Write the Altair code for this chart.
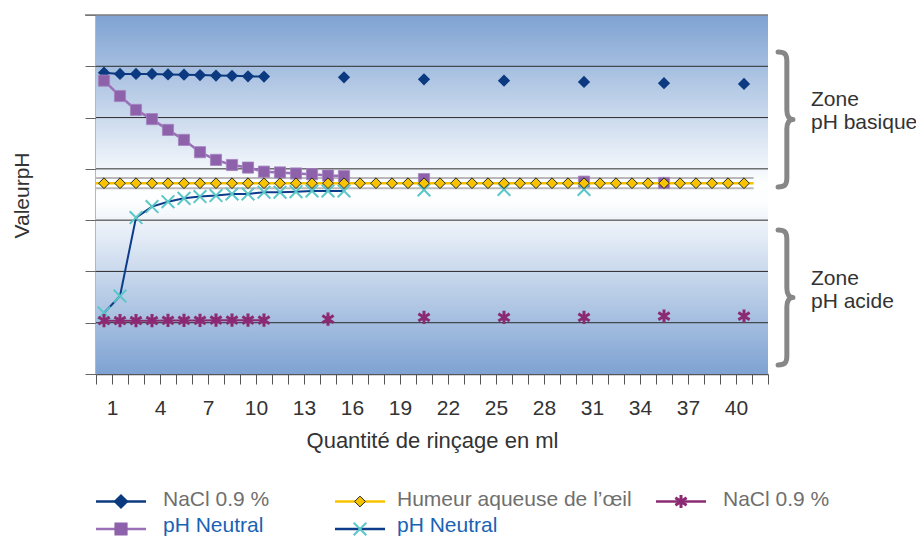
import altair as alt
import pandas as pd

W, H = 672, 359
FONT = "Liberation Sans"

# ---------------- data ----------------
X_TICKS = [i + 0.5 for i in range(0, 43)]          # band boundaries 0.5 .. 42.5
Y_TICKS = [0, 2, 4, 6, 8, 10, 12, 14]
Y_GRID = [2, 4, 6, 8, 10, 12]
Y_TOP = [14]

# NaCl 0.9 % (dark blue diamonds)
nacl_x = [1, 2, 3, 4, 5, 6, 7, 8, 9, 10, 11, 16, 21, 26, 31, 36, 41]
nacl_y = [11.75, 11.70, 11.70, 11.70, 11.68, 11.67, 11.66, 11.64, 11.63, 11.61, 11.60,
          11.57, 11.49, 11.44, 11.39, 11.34, 11.31]
nacl_conn = 11

# pH Neutral (purple squares)
phn_x = [1, 2, 3, 4, 5, 6, 7, 8, 9, 10, 11, 12, 13, 14, 15, 16, 21, 31, 36]
phn_y = [11.44, 10.84, 10.30, 9.94, 9.52, 9.13, 8.65, 8.35, 8.15, 8.05, 7.89, 7.86,
         7.82, 7.79, 7.74, 7.72, 7.60, 7.50, 7.45]
phn_conn = 16

# pH Neutral (cyan crosses, dark blue line)
cy_x = [1, 2, 3, 4, 5, 6, 7, 8, 9, 10, 11, 12, 13, 14, 15, 16, 21, 26, 31]
cy_y = [2.38, 3.04, 6.10, 6.53, 6.72, 6.85, 6.92, 6.96, 7.02, 7.02, 7.09, 7.09,
        7.11, 7.14, 7.14, 7.14, 7.18, 7.20, 7.20]
cy_conn = 16

# NaCl 0.9 % (magenta asterisks)
mag_x = [1, 2, 3, 4, 5, 6, 7, 8, 9, 10, 11, 15, 21, 26, 31, 36, 41]
mag_y = [2.08, 2.08, 2.08, 2.08, 2.09, 2.09, 2.09, 2.10, 2.10, 2.10, 2.10,
         2.14, 2.21, 2.21, 2.21, 2.26, 2.26]
mag_conn = 11

# Humeur aqueuse de l'oeil (yellow diamonds)
yel_x = list(range(1, 42))
yel_y = [7.44, 7.44, 7.44, 7.44, 7.44, 7.44, 7.44, 7.44, 7.44, 7.44, 7.44, 7.44, 7.44, 7.44,
         7.44, 7.44, 7.44, 7.44, 7.44, 7.44, 7.44, 7.44, 7.44, 7.44, 7.44, 7.44, 7.44, 7.44,
         7.44, 7.44, 7.44, 7.44, 7.44, 7.44, 7.44, 7.44, 7.44, 7.44, 7.44, 7.44, 7.44]
yel_band = [7.64, 7.24]
yel_span = [0.5, 41.6]

# ---------------- styles ----------------
C_NACL = "#0b3a80"
C_PHN = "#8e62ab"
C_PHN_LINE = "#9b70b9"
C_CY = "#5bc6c8"
C_CY_LINE = "#0d3c8a"
C_MAG = "#8b2a73"
C_YEL = "#f8c400"
C_TXT = "#333333"

SHAPE_X = "M-1,-1L1,1M-1,1L1,-1"
SHAPE_AST = "M0,-1L0,1M-0.85,-0.55L0.85,0.55M-0.85,0.55L0.85,-0.55"
SHAPE_BRACE = ("M-0.11,-1 C-0.01,-1 0.02,-0.97 0.02,-0.86 L0.02,-0.14 "
               "C0.02,-0.04 0.06,0 0.11,0 C0.06,0 0.02,0.04 0.02,0.14 "
               "L0.02,0.86 C0.02,0.97 -0.01,1 -0.11,1")

xs = alt.Scale(domain=[0.5, 42.5], nice=False, zero=False)
ys = alt.Scale(domain=[0, 14], nice=False, zero=False)

XAX = alt.Axis(
    values=X_TICKS, grid=False,
    labelExpr="((datum.value - 1.5) % 3 == 0) ? format(datum.value - 0.5, 'd') : ''",
    labelOverlap=False, labelFlush=False,
    labelFont=FONT, labelFontSize=21, labelColor=C_TXT, labelPadding=13,
    tickSize=10, tickColor="#555555", domainColor="#555555", domainWidth=1.5,
    title="Quantité de rinçage en ml", titleFont=FONT, titleFontSize=22,
    titleFontWeight="normal", titleColor=C_TXT, titleY=73, titleBaseline="alphabetic",
)
YAX = alt.Axis(
    values=Y_TICKS, grid=False, labels=False,
    tickSize=11, tickColor="#666666", domainColor="#6e6e6e", domainWidth=2,
    title="ValeurpH", titleFont=FONT, titleFontSize=21, titleFontWeight="normal",
    titleColor=C_TXT, titleX=-68, titleY=180, titleAlign="center",
    titleBaseline="alphabetic", titleAngle=270,
)


def X(field="x"):
    return alt.X(f"{field}:Q", scale=xs, axis=XAX)


def Y(field="y"):
    return alt.Y(f"{field}:Q", scale=ys, axis=YAX)


def df(xv, yv):
    return pd.DataFrame({"x": xv, "y": yv})


one = pd.DataFrame({"a": [0]})

# background gradient
bg = alt.Chart(one).mark_rect(
    color=alt.Gradient(
        gradient="linear",
        stops=[alt.GradientStop(offset=0, color="#7ea2d2"),
               alt.GradientStop(offset=0.47, color="#fdfeff"),
               alt.GradientStop(offset=0.52, color="#fdfeff"),
               alt.GradientStop(offset=1, color="#7ea2d2")],
        x1=0, x2=0, y1=0, y2=1,
    )
).encode(x=alt.value(0), x2=alt.value(W), y=alt.value(0), y2=alt.value(H))

grid = alt.Chart(pd.DataFrame({"y": Y_GRID})).mark_rule(color="#2b2b2b", strokeWidth=1).encode(
    y=Y(), x=alt.value(0), x2=alt.value(W))
top = alt.Chart(pd.DataFrame({"y": Y_TOP})).mark_rule(color="#7d7d7d", strokeWidth=1.5).encode(
    y=Y(), x=alt.value(-11), x2=alt.value(W))

band = alt.Chart(pd.DataFrame({"y": yel_band})).mark_rule(color="#b9b9b9", strokeWidth=2).encode(
    y=Y(), x=alt.X(datum=yel_span[0], scale=xs, axis=XAX), x2=alt.datum(yel_span[1]))
yel_line = alt.Chart(pd.DataFrame({"y": [yel_y[0]]})).mark_rule(color=C_YEL, strokeWidth=2.5).encode(
    y=Y(), x=alt.X(datum=yel_span[0], scale=xs, axis=XAX), x2=alt.datum(yel_span[1]))

d_nacl = df(nacl_x, nacl_y)
d_phn = df(phn_x, phn_y)
d_cy = df(cy_x, cy_y)
d_mag = df(mag_x, mag_y)
d_yel = df(yel_x, yel_y)

nacl_l = alt.Chart(d_nacl.iloc[:nacl_conn]).mark_line(color=C_NACL, strokeWidth=2).encode(x=X(), y=Y())
nacl_p = alt.Chart(d_nacl).mark_point(shape="diamond", filled=True, color=C_NACL, size=150, opacity=1).encode(x=X(), y=Y())

phn_l = alt.Chart(d_phn.iloc[:phn_conn]).mark_line(color=C_PHN_LINE, strokeWidth=2.5).encode(x=X(), y=Y())
phn_p = alt.Chart(d_phn).mark_point(shape="square", filled=True, color=C_PHN, size=125, opacity=1,
                                    stroke="#a585c0", strokeWidth=0.8).encode(x=X(), y=Y())

cy_l = alt.Chart(d_cy.iloc[:cy_conn]).mark_line(color=C_CY_LINE, strokeWidth=2).encode(x=X(), y=Y())
cy_p = alt.Chart(d_cy).mark_point(shape=SHAPE_X, filled=False, color=C_CY, size=160, strokeWidth=2, opacity=1).encode(x=X(), y=Y())

mag_l = alt.Chart(d_mag.iloc[:mag_conn]).mark_line(color=C_MAG, strokeWidth=2).encode(x=X(), y=Y())
mag_p = alt.Chart(d_mag).mark_point(shape=SHAPE_AST, filled=False, color=C_MAG, size=175, strokeWidth=3, opacity=1).encode(x=X(), y=Y())

yel_p = alt.Chart(d_yel).mark_point(shape="diamond", filled=True, fill=C_YEL, stroke="#222222",
                                    strokeWidth=1, size=115, opacity=1).encode(x=X(), y=Y())

# zone annotations
ZONES = [
    {"cy": 104.5, "ty": 91, "text": ["Zone", "pH basique"]},
    {"cy": 282.5, "ty": 270, "text": ["Zone", "pH acide"]},
]
annots = []
for z in ZONES:
    annots.append(alt.Chart(one).mark_point(shape=SHAPE_BRACE, filled=False, stroke="#878787",
                                            strokeWidth=5, size=135 * 135, opacity=1,
                                            strokeCap="round", strokeJoin="round")
                  .encode(x=alt.value(689.5), y=alt.value(z["cy"])))
    annots.append(alt.Chart(one).mark_text(text=z["text"], align="left", baseline="alphabetic",
                                           font=FONT, fontSize=21, color=C_TXT, lineHeight=23)
                  .encode(x=alt.value(715), y=alt.value(z["ty"])))

# legend (custom, positioned below plot)
LEGEND = [
    dict(x0=0, x1=50, xm=25, xt=67, yl=486.5, yt=491, line=C_NACL, shape="diamond", filled=True,
         fill=C_NACL, stroke=C_NACL, size=150, sw=0, label="NaCl 0.9 %", lc="#6f6f6f"),
    dict(x0=239, x1=289, xm=264, xt=301, yl=486.5, yt=491, line=C_YEL, shape="diamond", filled=True,
         fill=C_YEL, stroke="#222222", size=115, sw=1, label="Humeur aqueuse de l’œil", lc="#6f6f6f"),
    dict(x0=560, x1=610, xm=585, xt=627, yl=486.5, yt=491, line=C_MAG, shape=SHAPE_AST, filled=False,
         fill=None, stroke=C_MAG, size=175, sw=3, label="NaCl 0.9 %", lc="#6f6f6f"),
    dict(x0=0, x1=50, xm=25, xt=67, yl=514, yt=517, line=C_PHN_LINE, shape="square", filled=True,
         fill=C_PHN, stroke=C_PHN, size=125, sw=0, label="pH Neutral", lc="#1a62b2"),
    dict(x0=239, x1=289, xm=264, xt=301, yl=514, yt=517, line=C_CY_LINE, shape=SHAPE_X, filled=False,
         fill=None, stroke=C_CY, size=160, sw=2, label="pH Neutral", lc="#1a62b2"),
]
leg = []
for it in LEGEND:
    leg.append(alt.Chart(one).mark_rule(color=it["line"], strokeWidth=2.5)
               .encode(x=alt.value(it["x0"]), x2=alt.value(it["x1"]), y=alt.value(it["yl"])))
    pkw = dict(shape=it["shape"], filled=it["filled"], stroke=it["stroke"], size=it["size"], opacity=1)
    if it["filled"]:
        pkw["fill"] = it["fill"]
    if it["sw"]:
        pkw["strokeWidth"] = it["sw"]
    leg.append(alt.Chart(one).mark_point(**pkw).encode(x=alt.value(it["xm"]), y=alt.value(it["yl"])))
    leg.append(alt.Chart(one).mark_text(text=it["label"], align="left", baseline="alphabetic",
                                        font=FONT, fontSize=21, color=it["lc"])
               .encode(x=alt.value(it["xt"]), y=alt.value(it["yt"])))

chart = alt.layer(
    bg, grid, top, band,
    nacl_l, nacl_p, phn_l, phn_p, cy_l, cy_p, mag_l, mag_p,
    yel_line, yel_p,
    *annots, *leg,
).properties(
    width=W, height=H,
    autosize=alt.AutoSizeParams(type="none"),
    padding={"left": 88, "top": 7, "right": 148, "bottom": 172},
).configure_view(stroke=None)

chart.save("out.html", embed_options={"renderer": "svg", "actions": False})
